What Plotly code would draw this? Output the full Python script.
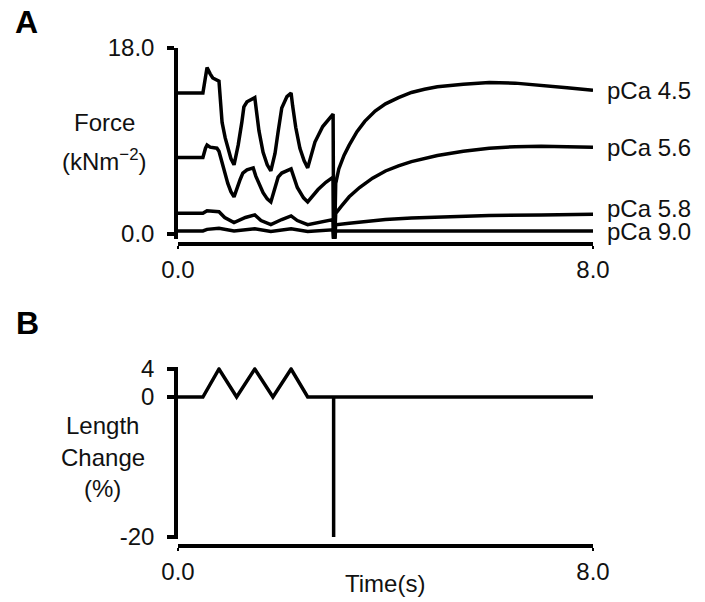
import plotly.graph_objects as go

# ---------------- data ----------------
# Panel A: force traces (kN m^-2) vs time (s)
t_45 = [0, 0.48, 0.53, 0.56, 0.62, 0.67, 0.79, 0.82, 0.85, 0.91, 0.96, 1.02, 1.08, 1.16, 1.23, 1.27,
        1.33, 1.48, 1.51, 1.56, 1.64, 1.72, 1.79, 1.87, 1.93, 2.0, 2.1, 2.18, 2.21, 2.27, 2.35, 2.43,
        2.5, 2.57, 2.64, 2.79, 2.9, 2.99, 3.0, 3.02,
        3.04, 3.1, 3.2, 3.3, 3.45, 3.6, 3.8, 4.0, 4.25, 4.5, 4.75, 5.0, 5.5, 6.0, 6.5, 7.0, 7.5, 8.0]
f_45 = [13.65, 13.65, 15.2, 16.1, 15.5, 15.1, 14.8, 13.0, 10.8, 9.3, 8.3, 7.3, 6.7, 8.6, 10.8, 12.3,
        12.8, 13.2, 12.0, 10.0, 7.9, 6.7, 6.1, 7.8, 9.9, 12.2, 13.3, 13.65, 12.4, 10.3, 8.3, 7.1,
        6.4, 7.8, 8.9, 10.4, 11.1, 11.6, -0.4, -0.4,
        4.9, 6.3, 7.6, 8.6, 9.9, 10.9, 11.9, 12.6, 13.2, 13.7, 14.0, 14.25, 14.5, 14.65, 14.6, 14.4, 14.15, 13.9]

t_56 = [0, 0.48, 0.53, 0.56, 0.62, 0.75, 0.79, 0.86, 0.96, 1.02, 1.08, 1.2, 1.25, 1.33, 1.45, 1.5,
        1.64, 1.72, 1.79, 1.93, 2.0, 2.18, 2.3, 2.42, 2.5, 2.7, 2.85, 2.99, 3.0, 3.02,
        3.04, 3.15, 3.3, 3.5, 3.75, 4.0, 4.25, 4.5, 5.0, 5.5, 6.0, 6.5, 7.0, 7.5, 8.0]
f_56 = [7.4, 7.4, 8.3, 8.6, 8.4, 8.3, 8.0, 6.7, 4.9, 4.1, 3.6, 5.3, 5.9, 6.2, 6.4, 5.6,
        4.0, 3.4, 3.1, 5.5, 5.9, 6.3, 4.5, 3.5, 3.1, 4.3, 5.0, 5.5, -0.4, -0.4,
        2.0, 2.7, 3.6, 4.5, 5.4, 6.1, 6.6, 7.0, 7.6, 8.0, 8.3, 8.45, 8.5, 8.45, 8.4]

t_58 = [0, 0.48, 0.56, 0.79, 0.9, 1.08, 1.3, 1.48, 1.6, 1.79, 2.0, 2.18, 2.3, 2.5, 2.99, 3.0, 3.02,
        3.04, 3.3, 3.6, 4.0, 4.5, 5.0, 6.0, 7.0, 8.0]
f_58 = [2.0, 2.0, 2.25, 2.15, 1.6, 1.1, 1.6, 1.85, 1.3, 0.9, 1.4, 1.75, 1.3, 0.9, 1.4, -0.4, -0.4,
        0.9, 1.05, 1.2, 1.4, 1.55, 1.65, 1.78, 1.85, 1.9]

t_90 = [0, 0.48, 0.56, 0.79, 1.08, 1.48, 1.79, 2.18, 2.5, 2.99, 3.0, 3.02, 3.04, 8.0]
f_90 = [0.3, 0.3, 0.45, 0.55, 0.3, 0.5, 0.25, 0.5, 0.25, 0.4, -0.4, -0.4, 0.3, 0.3]

force_series = [("pCa 4.5", t_45, f_45), ("pCa 5.6", t_56, f_56),
                ("pCa 5.8", t_58, f_58), ("pCa 9.0", t_90, f_90)]
label_yshift = {"pCa 4.5": 0, "pCa 5.6": 0, "pCa 5.8": 6, "pCa 9.0": -1}

# Panel B: length change (%) vs time (s)
t_len = [0, 0.48, 0.79, 1.13, 1.48, 1.83, 2.18, 2.5, 3.0, 3.0, 3.0, 8.0]
l_len = [0, 0, 4, 0, 4, 0, 4, 0, 0, -20, 0, 0]

x_ticks = [0, 8]
x_ticktext = ["0.0", "8.0"]
ya_ticks = [0, 18]
ya_ticktext = ["0.0", "18.0"]
yb_ticks = [-20, 0, 4]
yb_ticktext = ["-20", "0", "4"]

# ---------------- figure ----------------
W, H = 705, 602
FONT = "Arial, 'Liberation Sans', Helvetica, sans-serif"
FS = 24
LW = 3.5

def py(p):
    return 1 - p / H

def px(p):
    return p / W

fig = go.Figure()
for name, t, f in force_series:
    fig.add_trace(go.Scatter(x=t, y=f, mode="lines", name=name,
                             line=dict(color="black", width=LW),
                             xaxis="x", yaxis="y", showlegend=False, hoverinfo="skip"))
fig.add_trace(go.Scatter(x=t_len, y=l_len, mode="lines", name="Length",
                         line=dict(color="black", width=LW),
                         xaxis="x2", yaxis="y2", showlegend=False, hoverinfo="skip"))

xdom = [px(178), px(593)]
common_x = dict(range=[0, 8], showgrid=False, zeroline=False, showline=True, linecolor="black",
                linewidth=LW, ticks="outside", ticklen=3, tickwidth=2, tickcolor="black",
                tickvals=x_ticks, ticktext=x_ticktext, tickfont=dict(family=FONT, size=FS, color="#111"),
                domain=xdom, fixedrange=True, automargin=False)
common_y = dict(showgrid=False, zeroline=False, showline=True, linecolor="black", linewidth=LW,
                ticks="outside", ticklen=7, tickwidth=LW, tickcolor="black",
                tickfont=dict(family=FONT, size=FS, color="#111"), fixedrange=True,
                automargin=False, ticklabelstandoff=8)

fig.update_layout(
    width=W, height=H, margin=dict(l=0, r=0, t=0, b=0),
    paper_bgcolor="white", plot_bgcolor="white",
    xaxis=dict(**common_x, anchor="free", position=py(244)),
    yaxis=dict(**common_y, range=[-0.45, 18], domain=[py(238.65), py(48)], anchor="x",
               tickvals=ya_ticks, ticktext=ya_ticktext),
    xaxis2=dict(**common_x, anchor="free", position=py(546)),
    yaxis2=dict(**common_y, range=[-20.25, 4.25], domain=[py(538.75), py(367.25)], anchor="x2",
                tickvals=yb_ticks, ticktext=yb_ticktext),
    showlegend=False,
)

ann = []
for name, t, f in force_series:
    ann.append(dict(x=t[-1], y=f[-1], xref="x", yref="y", text=name, showarrow=False,
                    xanchor="left", yanchor="middle", xshift=12, yshift=label_yshift[name],
                    font=dict(family=FONT, size=FS, color="#111")))

def txt(x, y, s, size=FS, bold=False):
    return dict(x=px(x), y=py(y), xref="paper", yref="paper", text=("<b>%s</b>" % s) if bold else s,
                showarrow=False, xanchor="center", yanchor="middle",
                font=dict(family=FONT, size=size, color="black" if bold else "#111"))

ann += [
    txt(26, 22, "A", 32, True),
    txt(27, 323, "B", 32, True),
    txt(104, 122, "Force"),
    txt(104, 160, "(kNm<sup>\u22122</sup>)"),
    txt(103, 425, "Length"),
    txt(103, 457, "Change"),
    txt(103, 488, "(%)"),
    txt(385, 583, "Time(s)"),
]
fig.update_layout(annotations=ann)

fig.write_html("out.html")
